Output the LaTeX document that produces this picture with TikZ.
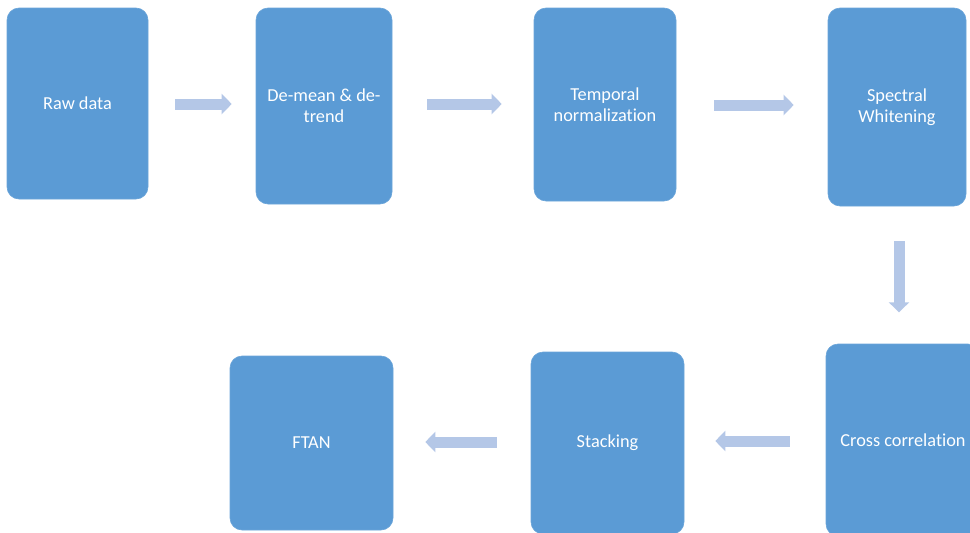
\documentclass[tikz,border=0pt]{standalone}
\usepackage{fontspec}
\setmainfont[Ligatures=NoCommon]{Carlito}
\usetikzlibrary{arrows.meta}
\definecolor{boxblue}{HTML}{5B9BD5}
\definecolor{arrowblue}{HTML}{B4C7E7}
\begin{document}
\begin{tikzpicture}[x=1pt,y=-1pt,
  box/.style={rectangle, rounded corners=12pt, fill=boxblue, draw=boxblue!90!white, line width=0.6pt,
    text=white, align=center, inner sep=0pt, font=\fontsize{18.3}{21}\selectfont},
  flow/.style={draw=arrowblue, line width=11pt,
    -{Triangle[length=10pt,width=20pt,fill=arrowblue]}}]
\useasboundingbox (0,0) rectangle (970,533);
\node[box, minimum width=141pt, minimum height=191pt] (raw) at (77.5,103.5) {Raw data};
\node[box, minimum width=136pt, minimum height=196pt] (demean) at (324,106) {De-mean \& de-\\trend};
\node[box, minimum width=142pt, minimum height=193pt] (temporal) at (605,104.5) {Temporal\\normalization};
\node[box, minimum width=138pt, minimum height=198pt] (spectral) at (897,107) {Spectral\\Whitening};
\node[box, minimum width=154pt, minimum height=192pt] (cross) at (903,440) {Cross correlation};
\node[box, minimum width=153pt, minimum height=182pt] (stacking) at (607.5,443) {Stacking};
\node[box, minimum width=163pt, minimum height=174pt] (ftan) at (311.5,443) {FTAN};
\draw[flow] ([xshift=27pt,yshift=-0.5pt]raw.east) -- ([xshift=-24pt,yshift=2pt]demean.west);
\draw[flow] ([xshift=35pt,yshift=2pt]demean.east) -- ([xshift=-32pt,yshift=0.5pt]temporal.west);
\draw[flow] ([xshift=38pt,yshift=-0.5pt]temporal.east) -- ([xshift=-34pt,yshift=2pt]spectral.west);
\draw[flow] ([xshift=2pt,yshift=-35pt]spectral.south) -- ([xshift=2pt,yshift=-106pt]spectral.south);
\draw[flow] ([xshift=-36pt,yshift=-1pt]cross.west) -- ([xshift=31pt,yshift=2pt]stacking.east);
\draw[flow] ([xshift=-34pt,yshift=1pt]stacking.west) -- ([xshift=32pt,yshift=1pt]ftan.east);
\end{tikzpicture}
\end{document}
